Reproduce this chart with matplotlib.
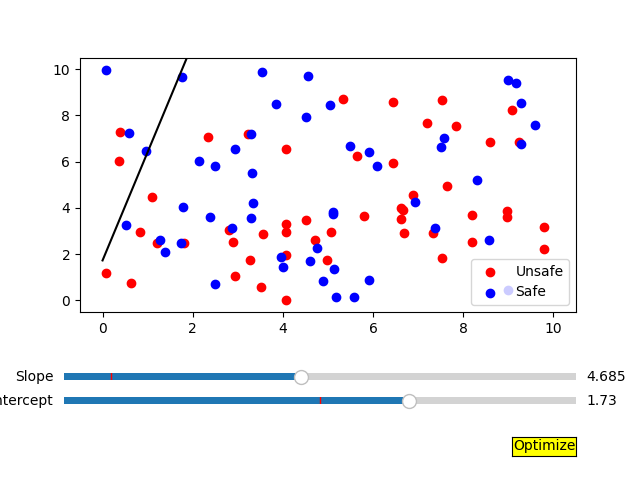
import numpy as np
import matplotlib
matplotlib.use("Agg")
import matplotlib.pyplot as plt
from matplotlib.widgets import Slider, Button

# unsafe points (red)
unsafe_x = [0.07, 0.64, 0.38, 0.36, 0.82, 1.09, 1.2, 1.8, 2.33, 2.8, 2.89, 2.93,
            3.22, 3.27, 3.51, 3.56, 4.07, 4.07, 4.07, 4.07, 4.07, 4.51, 4.71, 4.98,
            5.07, 5.33, 5.64, 5.8, 6.44, 6.44, 6.62, 6.66, 6.62, 6.69, 6.89, 7.2,
            7.33, 7.53, 7.53, 7.64, 7.84, 8.2, 8.2, 8.96, 8.96, 9.07, 9.24, 9.8,
            9.8, 8.6]
unsafe_y = [1.17, 0.74, 7.27, 6.02, 2.94, 4.46, 2.47, 2.47, 7.06, 3.03, 2.51, 1.04,
            7.19, 1.77, 0.56, 2.86, 6.54, 3.29, 2.94, 1.95, 0.0, 3.46, 2.6, 1.77,
            2.94, 8.7, 6.23, 3.64, 8.57, 5.93, 3.98, 3.9, 3.51, 2.9, 4.55, 7.66,
            2.9, 8.66, 1.82, 4.94, 7.53, 3.68, 2.51, 3.85, 3.59, 8.23, 6.84, 3.16,
            2.21, 6.84]

# safe points (blue)
safe_x = [0.07, 0.58, 0.96, 0.53, 1.27, 1.38, 1.76, 1.78, 1.73, 2.38, 2.13, 2.49,
          2.49, 2.87, 2.93, 3.29, 3.31, 3.33, 3.29, 3.53, 3.84, 3.96, 4.0, 4.51,
          4.56, 4.6, 4.76, 4.89, 5.04, 5.11, 5.11, 5.13, 5.18, 5.49, 5.58, 5.91,
          5.91, 6.09, 6.93, 7.38, 7.51, 7.58, 8.31, 8.56, 9.0, 9.16, 9.29, 9.29,
          9.6, 9.0]
safe_y = [9.96, 7.23, 6.45, 3.25, 2.6, 2.08, 9.65, 4.03, 2.47, 3.59, 6.02, 5.8,
          0.69, 3.12, 6.54, 7.19, 5.5, 4.2, 3.55, 9.87, 8.48, 1.86, 1.43, 7.92,
          9.7, 1.69, 2.25, 0.82, 8.44, 3.81, 3.72, 1.34, 0.13, 6.67, 0.13, 6.41,
          0.87, 5.8, 4.24, 3.12, 6.62, 7.01, 5.2, 2.6, 9.52, 9.39, 8.53, 6.75,
          7.58, 0.43]

slope = 4.685
intercept = 1.73

fig, ax = plt.subplots()
plt.subplots_adjust(bottom=0.35)
ax.scatter(unsafe_x, unsafe_y, c="red", label="Unsafe")
ax.scatter(safe_x, safe_y, c="blue", label="Safe")
xs = np.array([0, 10])
line, = ax.plot(xs, slope * xs + intercept, color="black")
ax.set_xlim(-0.5, 10.5)
ax.set_ylim(-0.5, 10.5)
ax.legend(loc="lower right")

ax_slope = plt.axes([0.1, 0.2, 0.8, 0.03])
ax_int = plt.axes([0.1, 0.15, 0.8, 0.03])
s_slope = Slider(ax_slope, "Slope", 0, 10.1, valinit=0.92, valfmt="%.3f")
s_int = Slider(ax_int, "Intercept", -5, 5, valinit=0, valfmt="%.2f")
s_slope.set_val(slope)
s_int.set_val(intercept)

ax_btn = plt.axes([0.8, 0.05, 0.1, 0.04])
btn = Button(ax_btn, "Optimize", color="yellow", hovercolor="0.975")

plt.savefig("out.png")
